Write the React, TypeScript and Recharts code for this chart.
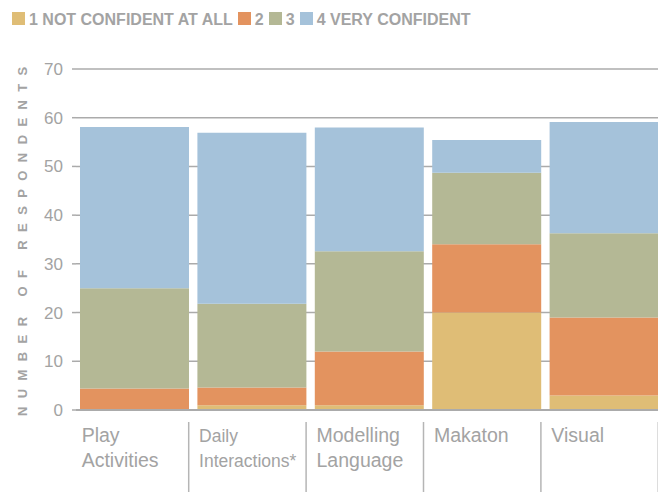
import { BarChart, Bar, XAxis, YAxis, CartesianGrid } from 'recharts';

const categories = ['Play\nActivities', 'Daily\nInteractions*', 'Modelling\nLanguage', 'Makaton', 'Visual'];
const notConfident = [0, 1, 1, 20, 3];
const level2 = [4.4, 3.6, 11, 14, 16];
const level3 = [20.6, 17.2, 20.6, 14.7, 17.3];
const veryConfident = [33.1, 35.1, 25.4, 6.7, 22.8];
const yTicks = [0, 10, 20, 30, 40, 50, 60, 70];

const seriesNames = ['1 NOT CONFIDENT AT ALL', '2', '3', '4 VERY CONFIDENT'];
const seriesColors = ['#dfbd76', '#e3935f', '#b4b895', '#a5c2da'];

const data = categories.map((name, i) => ({
  name,
  s1: notConfident[i],
  s2: level2[i],
  s3: level3[i],
  s4: veryConfident[i],
}));

const GRAY = '#a3a3a3';
const FONT = '"Helvetica Neue", Helvetica, Arial, "Liberation Sans", sans-serif';

const CategoryTick = (props: any) => {
  const { x, y, payload } = props;
  const lines = String(payload.value).split('\n');
  const small = lines.some((l) => l.startsWith('Interactions'));
  return (
    <g>
      <line x1={x + 54} x2={x + 54} y1={y + 12} y2={y + 82} stroke="#b5b5b5" strokeWidth={1.5} />
      {lines.map((l, i) => (
        <text
          key={i}
          x={x - 53}
          y={y + 32 + i * 25}
          fill={GRAY}
          fontSize={small ? 17.5 : 19.5}
          fontFamily={FONT}
          textAnchor="start"
        >
          {l}
        </text>
      ))}
    </g>
  );
};

const YTitle = (props: any) => {
  const vb = props.viewBox;
  const x = vb.x + 27;
  const y = vb.y + vb.height + 6;
  return (
    <text
      x={x}
      y={y}
      transform={`rotate(-90, ${x}, ${y})`}
      fill={GRAY}
      fontSize={13}
      fontWeight="bold"
      fontFamily={FONT}
      letterSpacing={8.4}
      textAnchor="start"
    >
      NUMBER OF RESPONDENTS
    </text>
  );
};

const App = () => {
  return (
    <div style={{ position: 'absolute', left: 0, top: 0, width: 658, height: 492, overflow: 'hidden', background: '#fff' }}>
      <div
        style={{
          position: 'absolute',
          left: 12,
          top: 12,
          display: 'flex',
          alignItems: 'center',
          fontFamily: FONT,
          fontWeight: 'bold',
          fontSize: 16,
          color: GRAY,
          lineHeight: '13px',
          whiteSpace: 'nowrap',
        }}
      >
        {seriesNames.map((n, i) => (
          <div key={n} style={{ display: 'flex', alignItems: 'center', marginRight: 5 }}>
            <span style={{ display: 'inline-block', width: 13, height: 13, background: seriesColors[i], marginRight: 4 }} />
            <span style={{ position: 'relative', top: 1 }}>{n}</span>
          </div>
        ))}
      </div>
      <BarChart
        width={670}
        height={492}
        data={data}
        margin={{ top: 69, right: 7, bottom: 0, left: 0 }}
        barCategoryGap={4}
      >
        <CartesianGrid vertical={false} stroke="#ababab" strokeWidth={1.5} />
        <XAxis
          dataKey="name"
          interval={0}
          height={82}
          tickSize={0}
          tickMargin={0}
          tickLine={false}
          axisLine={{ stroke: '#ababab', strokeWidth: 2 }}
          tick={<CategoryTick />}
        />
        <YAxis
          width={76}
          domain={[0, 70]}
          ticks={yTicks}
          interval={0}
          axisLine={false}
          tickSize={4}
          tickMargin={9}
          tickLine={{ stroke: '#ababab', strokeWidth: 1.5 }}
          tick={{ fill: GRAY, fontSize: 17, fontFamily: FONT }}
          label={{ content: <YTitle /> }}
        />
        <Bar dataKey="s1" stackId="a" fill={seriesColors[0]} isAnimationActive={false} />
        <Bar dataKey="s2" stackId="a" fill={seriesColors[1]} isAnimationActive={false} />
        <Bar dataKey="s3" stackId="a" fill={seriesColors[2]} isAnimationActive={false} />
        <Bar dataKey="s4" stackId="a" fill={seriesColors[3]} isAnimationActive={false} />
      </BarChart>
    </div>
  );
};

export default App;
